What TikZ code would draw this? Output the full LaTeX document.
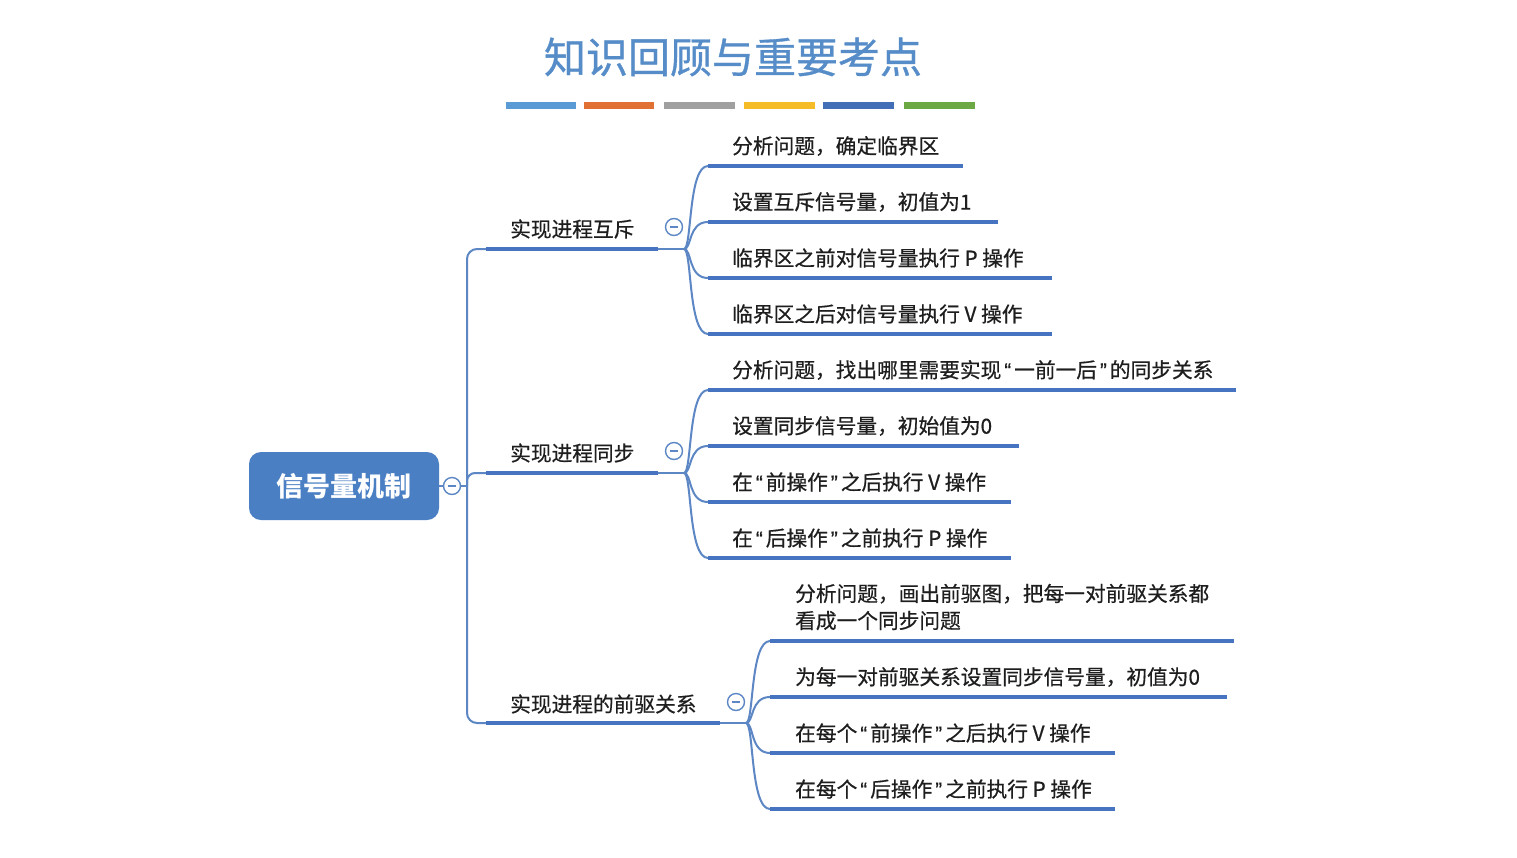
\documentclass[tikz,border=0pt]{standalone}
\usepackage{fontspec}
\usetikzlibrary{calc}
\newfontfamily\cjk{Noto Sans CJK SC}
\newfontfamily\cjkm[FakeBold=0.6]{Noto Sans CJK SC}
\newfontfamily\cjkt[FakeBold=0.8]{Noto Sans CJK SC}
\newfontfamily\latq[FakeBold=0.6]{Liberation Sans}
\newcommand{\myLq}{{\kern3pt\latq “\kern3pt}}
\newcommand{\myRq}{{\kern3pt\latq ”\kern3pt}}
\definecolor{lineblue}{RGB}{92,135,196}
\definecolor{ulblue}{RGB}{70,116,192}
\definecolor{rootblue}{RGB}{74,127,196}
\definecolor{titleblue}{RGB}{86,141,200}
\definecolor{txt}{RGB}{30,30,30}
\definecolor{b1}{RGB}{91,155,213}
\definecolor{b2}{RGB}{224,112,52}
\definecolor{b3}{RGB}{160,160,160}
\definecolor{b4}{RGB}{246,188,40}
\definecolor{b5}{RGB}{66,110,184}
\definecolor{b6}{RGB}{108,168,68}
\begin{document}
\begin{tikzpicture}[x=1pt,y=-1pt,
  thinln/.style={draw=lineblue, line width=2pt},
  uline/.style={draw=ulblue, line width=4.5pt},
  lbl/.style={anchor=west, inner sep=0pt, font=\cjkm\fontsize{20.7}{27}\selectfont, text=txt, align=left},
  tog/.style={circle, draw=lineblue, fill=white, line width=1.4pt, minimum size=17pt, inner sep=0pt,
    path picture={\draw[lineblue,line width=1.2pt] ([xshift=-4pt]path picture bounding box.center) -- ([xshift=4pt]path picture bounding box.center);}},
  cbar/.style={line width=7pt},
]
\useasboundingbox (0,0) rectangle (1517,857);
\fill[white] (0,0) rectangle (1517,857);

% title
\node[inner sep=0pt, text=titleblue, font=\cjkt\fontsize{42}{48}\selectfont] (title) at (733,57) {知识回顾与重要考点};
\draw[cbar, b1] (506,105) -- (576,105);
\draw[cbar, b2] (584,105) -- (654,105);
\draw[cbar, b3] (664,105) -- (735,105);
\draw[cbar, b4] (744,105) -- (815,105);
\draw[cbar, b5] (823,105) -- (894,105);
\draw[cbar, b6] (904,105) -- (975,105);

% root
\node[draw=none, fill=rootblue, rounded corners=12pt, minimum width=190pt, minimum height=68pt,
  text=white, font=\cjk\bfseries\fontsize{27}{30}\selectfont] (root) at (344,486) {信号量机制};

% trunk
\coordinate (j) at (467,486);
\coordinate (tt) at (467,249);
\coordinate (tb) at (467,723);
\coordinate (a1) at (486,249); \coordinate (e1) at (658,249); \coordinate (f1) at (684,249);
\coordinate (a2) at (486,473); \coordinate (e2) at (658,473); \coordinate (f2) at (684,473);
\coordinate (a3) at (486,723); \coordinate (e3) at (720,723); \coordinate (f3) at (746,723);
\draw[thinln] (root.east) -- (j);
\draw[thinln, rounded corners=10pt] (a1) -- (tt) -- (tb) -- (a3);
\draw[thinln, rounded corners=8pt] (j) -- (467,473) -- (a2);
\node[tog] (troot) at (452,486) {};

% level 1
\draw[uline] (a1) -- (e1);
\draw[uline] (a2) -- (e2);
\draw[uline] (a3) -- (e3);
\draw[thinln] (e1) -- (f1);
\draw[thinln] (e2) -- (f2);
\draw[thinln] (e3) -- (f3);
\node[lbl] (m1) at (510,229) {实现进程互斥};
\node[lbl] (m2) at (510,453) {实现进程同步};
\node[lbl] (m3) at (510,704) {实现进程的前驱关系};
\node[tog] (t1) at (674,227) {};
\node[tog] (t2) at (674,451) {};
\node[tog] (t3) at (736,702) {};

% children of group 1
\foreach \i/\y/\e/\t in {1/166/963/{分析问题，确定临界区},
                         2/222/998/{设置互斥信号量，初值为1},
                         3/278/1052/{临界区之前对信号量执行 P 操作},
                         4/334/1052/{临界区之后对信号量执行 V 操作}}{
  \coordinate (ca\i) at (708,\y);
  \coordinate (cb\i) at (\e,\y);
  \draw[thinln] (f1) .. controls ($(f1)+(8,0)$) and ($(ca\i)+(-20,0)$) .. (ca\i);
  \draw[uline] (ca\i) -- (cb\i);
  \node[lbl] (ct\i) at (732,\y-20) {\t};
}

% children of group 2
\foreach \i/\y/\e/\t in {1/390/1236/{分析问题，找出哪里需要实现\myLq 一前一后\myRq 的同步关系},
                         2/446/1019/{设置同步信号量，初始值为0},
                         3/502/1011/{在\myLq 前操作\myRq 之后执行 V 操作},
                         4/558/1011/{在\myLq 后操作\myRq 之前执行 P 操作}}{
  \coordinate (da\i) at (708,\y);
  \coordinate (db\i) at (\e,\y);
  \draw[thinln] (f2) .. controls ($(f2)+(8,0)$) and ($(da\i)+(-20,0)$) .. (da\i);
  \draw[uline] (da\i) -- (db\i);
  \node[lbl] (dt\i) at (732,\y-20) {\t};
}

% children of group 3
\foreach \i/\y/\e in {1/641/1234, 2/697/1227, 3/753/1115, 4/809/1115}{
  \coordinate (ga\i) at (770,\y);
  \coordinate (gb\i) at (\e,\y);
  \draw[thinln] (f3) .. controls ($(f3)+(8,0)$) and ($(ga\i)+(-20,0)$) .. (ga\i);
  \draw[uline] (ga\i) -- (gb\i);
}
\node[lbl] (gt1) at (795,607) {分析问题，画出前驱图，把每一对前驱关系都\\看成一个同步问题};
\node[lbl] (gt2) at (795,677) {为每一对前驱关系设置同步信号量，初值为0};
\node[lbl] (gt3) at (795,733) {在每个\myLq 前操作\myRq 之后执行 V 操作};
\node[lbl] (gt4) at (795,789) {在每个\myLq 后操作\myRq 之前执行 P 操作};
\end{tikzpicture}
\end{document}
